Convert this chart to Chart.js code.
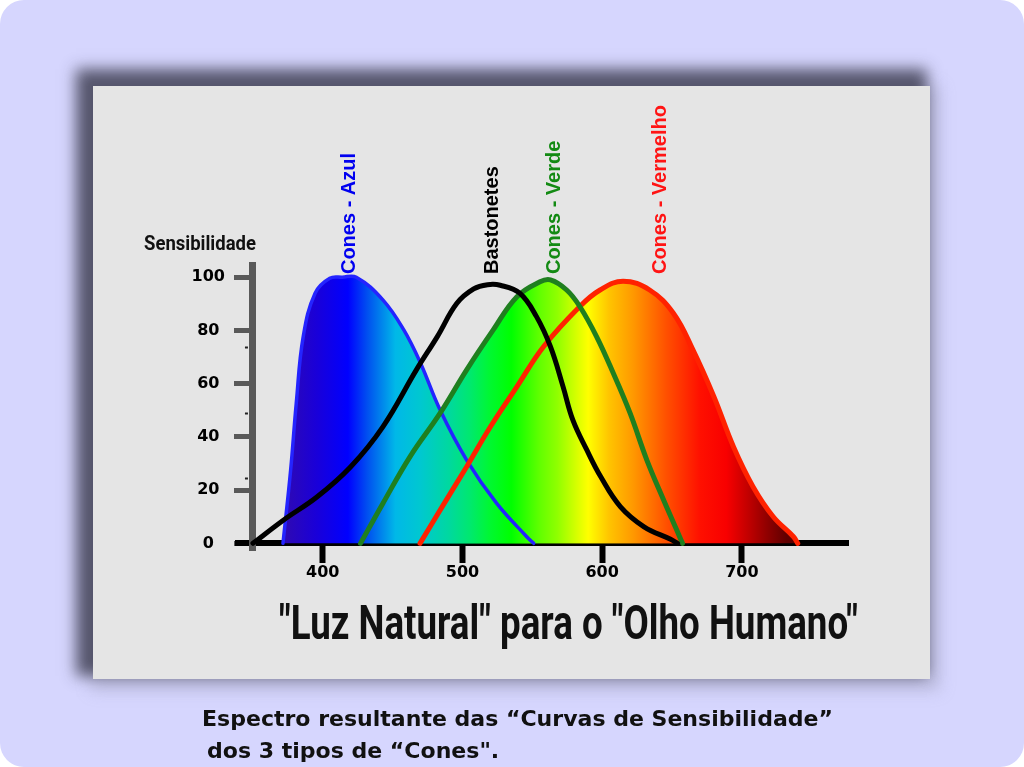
<!DOCTYPE html>
<html><head><meta charset="utf-8">
<script src="https://cdn.jsdelivr.net/npm/chart.js@4.4.1/dist/chart.umd.min.js"></script>
<style>
html,body{margin:0;padding:0;background:#fff;width:1024px;height:767px;overflow:hidden;}
#bg{position:absolute;left:0;top:0;width:1024px;height:767px;background:#d6d6fe;border-radius:24px;}
#panel{position:absolute;left:93px;top:86px;width:837px;height:593px;background:#e5e5e5;
  box-shadow:-10px -10px 14px 7px rgba(70,70,90,0.88), 4px 6px 14px 6px rgba(150,150,175,0.35);}
#chart{position:absolute;left:0;top:0;}
.t{position:absolute;white-space:pre;transform-origin:0 0;line-height:1;color:#111;}
#ylab{font:bold 21px Roboto;left:144px;top:231px;}
#title{font:bold 49px Roboto;left:279px;top:594px;}
.cap{font:bold 22px "DejaVu Sans";}
#cap1{left:202px;top:706px;}
#cap2{left:207px;top:738px;}
</style></head>
<body>
<div id="bg"></div>
<div id="panel"></div>
<canvas id="chart" width="1024" height="767"></canvas>
<div class="t" id="ylab">Sensibilidade</div>
<div class="t" id="title">"Luz Natural" para o "Olho Humano"</div>
<div class="t cap" id="cap1">Espectro resultante das “Curvas de Sensibilidade”</div>
<div class="t cap" id="cap2">dos 3 tipos de “Cones".</div>
<script>
// ---- data ----
const xTicks = [400, 500, 600, 700];
const yTicks = [0, 20, 40, 60, 80, 100];
const yMinorTicks = [24.4, 49, 73.7];

const rodNm  = [350,372,396,420,443,467,482,496,508,518,527,541,553,563,572,579,589,599,613,630,649,654];
const rodVal = [0,8.8,17.5,28.8,43.8,65.2,77.7,90.2,95.6,97.2,97,94,85.2,73.9,58.9,46.4,35.1,25,13.8,6.2,1.5,0];

const blueNm  = [371.5,377,381,386,394.5,405,414,424,443,458,470,484,503,524.5,546,551];
const blueVal = [0,27.6,52.6,77.7,94,99.6,100,100,91.5,80.2,67.7,50.1,31.3,15,2.5,0];

const greenNm  = [427,443,462.5,484,503,522,539,555.5,563,574.6,584,596,608,620,632,644,653.4,657.5];
const greenVal = [0,15,32.6,48.9,65.2,80.2,92.7,98.3,99,95.2,89,77.7,63.9,48.9,31.3,16.3,5,0];

const redNm  = [469.6,484,503,520,539,558,584,598.5,615,634,651,665,680,694,708,722.5,737,740];
const redVal = [0,12.5,28.8,43.8,58.9,73.9,89,95.2,98.5,95.2,86.5,72.7,55.1,36.3,21.3,10,2.5,0];

const curveLabels = ['Cones - Azul', 'Bastonetes', 'Cones - Verde', 'Cones - Vermelho'];
const labelNm = [419.3, 521.4, 565.7, 642.1];
const labelBase = 101.2;

// ---- styles ----
const labelColors = ['#0000f0', '#000000', '#138a13', '#ff1414'];
const spectrumNm = [371,395,418,432,452,470,490,505,520,535,555,568,582,590,605,622,646,670,689,705,718,732,742];
const spectrumColors = ['#300ab0','#1a00d8','#0000ff','#0050f0','#00b8e8','#00c8d0','#00d8a0','#00e870','#00f830','#00ff00','#60ff00','#90ff00','#d8ff00','#ffff00','#ffc400','#ff9900','#ff5000','#ff1000','#f80000','#c00000','#900000','#600000','#580000'];

function spectrum(ctx) {
  const chart = ctx.chart;
  const {chartArea, scales} = chart;
  if (!chartArea) return 'rgba(0,0,0,0)';
  const first = spectrumNm[0], last = spectrumNm[spectrumNm.length - 1];
  const x0 = scales.x.getPixelForValue(first), x1 = scales.x.getPixelForValue(last);
  const g = chart.ctx.createLinearGradient(x0, 0, x1, 0);
  spectrumNm.forEach((nm, i) => g.addColorStop((nm - first) / (last - first), spectrumColors[i]));
  return g;
}
const pts = (xs, ys) => xs.map((x, i) => ({x: x, y: ys[i]}));

const labelPlugin = {
  id: 'curveLabels',
  afterDraw(chart) {
    const ctx = chart.ctx, xs = chart.scales.x, ys = chart.scales.y;
    ctx.save();
    // small minor marks left of the y axis
    const ax = xs.getPixelForValue(350);
    ctx.strokeStyle = '#222';
    ctx.lineWidth = 2;
    yMinorTicks.forEach(v => {
      const py = Math.round(ys.getPixelForValue(v)) + 0.5;
      ctx.beginPath(); ctx.moveTo(ax - 8, py); ctx.lineTo(ax - 5, py); ctx.stroke();
    });
    ctx.font = 'bold 20px "Liberation Sans"';
    ctx.textAlign = 'left';
    ctx.textBaseline = 'middle';
    curveLabels.forEach((t, i) => {
      ctx.save();
      ctx.translate(xs.getPixelForValue(labelNm[i]), ys.getPixelForValue(labelBase));
      ctx.rotate(-Math.PI / 2);
      ctx.fillStyle = labelColors[i];
      ctx.fillText(t, 0, 0);
      ctx.restore();
    });
    ctx.restore();
  }
};

const common = {pointRadius: 0, pointHoverRadius: 0, tension: 0.4,
  borderJoinStyle: 'round', borderCapStyle: 'round', xAxisID: 'x', yAxisID: 'y'};
const tickFont = {family: 'DejaVu Sans', weight: 'bold', size: 16};
const yMin = -2.5, yMax = 104.6;

function build() {
  new Chart(document.getElementById('chart'), {
    type: 'line',
    data: {
      datasets: [
        Object.assign({label: 'Bastonetes', data: pts(rodNm, rodVal), borderColor: '#000', borderWidth: 5, fill: false}, common),
        Object.assign({label: 'Cones - Verde', data: pts(greenNm, greenVal), borderColor: '#1f7f1f', borderWidth: 5, fill: 'origin', backgroundColor: spectrum}, common),
        Object.assign({label: 'Cones - Vermelho', data: pts(redNm, redVal), borderColor: '#ff2200', borderWidth: 5, fill: 'origin', backgroundColor: spectrum}, common),
        Object.assign({label: 'Cones - Azul', data: pts(blueNm, blueVal), borderColor: '#2424ff', borderWidth: 3.5, fill: 'origin', backgroundColor: spectrum}, common)
      ]
    },
    options: {
      responsive: false,
      animation: false,
      events: [],
      layout: {padding: {left: 178, right: 176, top: 265, bottom: 217}},
      plugins: {legend: {display: false}, tooltip: {enabled: false}, title: {display: false},
        filler: {drawTime: 'beforeDatasetsDraw'}},
      scales: {
        x: {type: 'linear', min: 339.3, max: 776, position: {y: 0},
          afterBuildTicks: s => { s.ticks = xTicks.map(v => ({value: v})); },
          grid: {display: true, drawOnChartArea: false, drawTicks: true, tickLength: 17, tickWidth: 6, tickColor: '#000'},
          border: {display: true, color: '#000', width: 6},
          ticks: {font: tickFont, color: '#000', padding: 3, maxRotation: 0, autoSkip: false}},
        y: {type: 'linear', min: yMin, max: yMax, position: {x: 350},
          afterBuildTicks: s => { s.ticks = yTicks.map(v => ({value: v})); },
          grid: {display: true, drawOnChartArea: false, drawTicks: true, tickLength: 15, tickWidth: 5, tickColor: '#595959'},
          border: {display: true, color: '#595959', width: 7},
          ticks: {display: false}},
        yl: {type: 'linear', min: yMin, max: yMax, position: 'left',
          afterBuildTicks: s => { s.ticks = yTicks.map(v => ({value: v})); },
          afterFit: s => { s.width = 60; },
          grid: {display: false, drawTicks: false}, border: {display: false},
          ticks: {font: tickFont, color: '#000', padding: 13, crossAlign: 'center'}}
      }
    },
    plugins: [labelPlugin]
  });
}

function fit(id, target) {
  const el = document.getElementById(id);
  const w = el.getBoundingClientRect().width;
  const s = target / w;
  el.style.transform = 'scaleX(' + s + ')';
  return s;
}

(document.fonts ? document.fonts.ready : Promise.resolve()).then(() => {
  build();
  fit('ylab', 112);
  fit('title', 579);
  const s = fit('cap1', 631);
  document.getElementById('cap2').style.transform = 'scaleX(' + s + ')';
});
</script>
</body></html>
